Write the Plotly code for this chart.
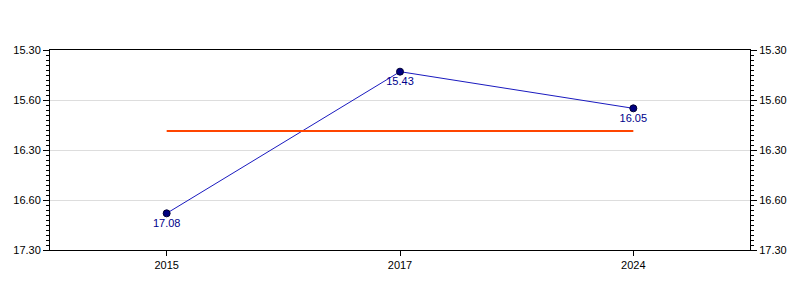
import plotly.graph_objects as go

categories = ["2015", "2017", "2024"]
values_mmss = ["17.08", "15.43", "16.05"]   # minutes.seconds
tick_vals = [15.5, 16.0, 16.5, 17.0, 17.5]   # decimal minutes
tick_text = ["15.30", "15.60", "16.30", "16.60", "17.30"]


def to_minutes(s):
    m, sec = s.split(".")
    return int(m) + int(sec) / 60.0


y = [to_minutes(v) for v in values_mmss]
avg = sum(y) / len(y)

fig = go.Figure()
fig.add_trace(go.Scatter(
    x=categories, y=y, mode="lines+markers+text", text=values_mmss,
    textposition="bottom center",
    textfont=dict(color="#00008B", size=11, family="Liberation Sans, Arial, sans-serif"),
    line=dict(color="#1a1abf", width=1),
    marker=dict(color="#000080", size=7, line=dict(color="#000033", width=1)),
    showlegend=False))
fig.add_trace(go.Scatter(
    x=[categories[0], categories[-1]], y=[avg, avg], mode="lines",
    line=dict(color="#FF4500", width=2), hoverinfo="skip", showlegend=False))
fig.add_trace(go.Scatter(x=categories, y=y, yaxis="y2", mode="lines",
                         line=dict(width=0), opacity=0, hoverinfo="skip", showlegend=False))

yax = dict(range=[17.5, 15.5], tickvals=tick_vals, ticktext=tick_text,
           ticks="outside", ticklen=6, tickcolor="black", showline=True, linecolor="black",
           linewidth=1, showgrid=True, gridcolor="#dddddd", zeroline=False,
           tickfont=dict(size=11, color="black"),
           minor=dict(ticks="outside", ticklen=3, dtick=0.05, tick0=15.5, tickcolor="black",
                      showgrid=False))

fig.update_layout(
    width=800, height=300,
    margin=dict(l=50, r=50, t=50, b=50),
    paper_bgcolor="white", plot_bgcolor="white",
    font=dict(family="Liberation Sans, Arial, sans-serif", size=11, color="black"),
    xaxis=dict(type="category", categoryorder="array", categoryarray=categories,
               range=[-0.5, 2.5], ticks="outside", ticklen=5,
               tickcolor="black", showline=True, linecolor="black", mirror=True,
               showgrid=False, tickfont=dict(size=11, color="black")),
    yaxis=yax,
    yaxis2=dict(yax, overlaying="y", side="right", showgrid=False),
)

fig.write_html("out.html")
